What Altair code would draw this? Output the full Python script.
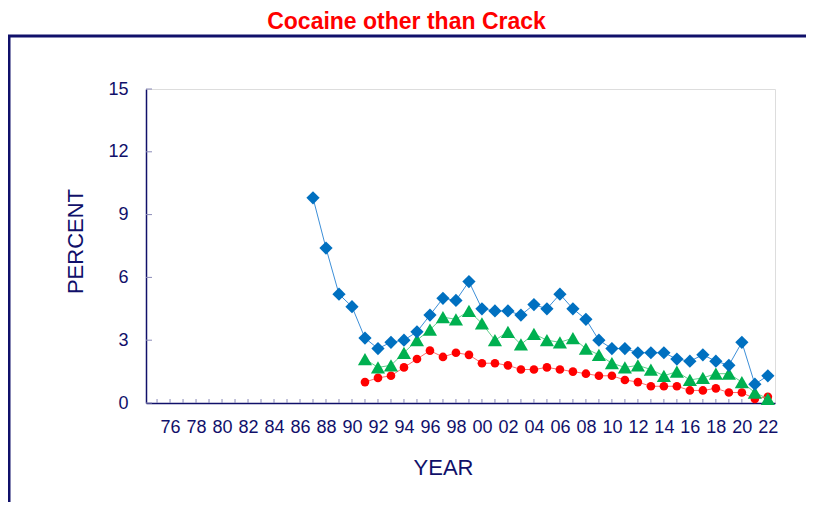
import altair as alt
import pandas as pd

# ---- data ----
years_12 = list(range(1987, 2023))
grade12 = [9.8, 7.4, 5.2, 4.6, 3.1, 2.6, 2.9, 3.0, 3.4, 4.2, 5.0, 4.9, 5.8, 4.5,
           4.4, 4.4, 4.2, 4.7, 4.5, 5.2, 4.5, 4.0, 3.0, 2.6, 2.6, 2.4, 2.4, 2.4,
           2.1, 2.0, 2.3, 2.0, 1.8, 2.9, 0.9, 1.3]
years_10_8 = list(range(1991, 2023))
grade10 = [2.1, 1.7, 1.8, 2.4, 3.0, 3.5, 4.1, 4.0, 4.4, 3.8, 3.0, 3.4, 2.8, 3.3,
           3.0, 2.9, 3.1, 2.6, 2.3, 1.9, 1.7, 1.8, 1.6, 1.3, 1.5, 1.1, 1.2, 1.4,
           1.4, 1.0, 0.5, 0.2]
grade8 = [1.0, 1.2, 1.3, 1.7, 2.1, 2.5, 2.2, 2.4, 2.3, 1.9, 1.9, 1.8, 1.6, 1.6,
          1.7, 1.6, 1.5, 1.4, 1.3, 1.3, 1.1, 1.0, 0.8, 0.8, 0.8, 0.6, 0.6, 0.7,
          0.5, 0.5, 0.2, 0.3]
tick_years = list(range(1975, 2023))
label_years = list(range(1976, 2023, 2))
y_ticks = [0, 3, 6, 9, 12, 15]

FONT = "Liberation Sans, Arial"
NAVY = "#10106a"
TICK = "#8a8ab8"
W, H = 629, 314

rows = []
for y, v in zip(years_12, grade12):
    rows.append({"year": y, "value": v, "grade": "12"})
for y, v in zip(years_10_8, grade10):
    rows.append({"year": y, "value": v, "grade": "10"})
for y, v in zip(years_10_8, grade8):
    rows.append({"year": y, "value": v, "grade": "8"})
df = pd.DataFrame(rows)

xscale = alt.Scale(domain=[1974.15, 2022.55], nice=False, zero=False)
yscale = alt.Scale(domain=[0, 15], nice=False, zero=True)

xaxis = alt.Axis(
    values=label_years, labelExpr="slice(toString(datum.value), 2)",
    ticks=False, tickSize=0, grid=False,
    domainColor=NAVY, domainWidth=1.5,
    labelColor=NAVY, labelFont=FONT, labelFontSize=18, labelPadding=15,
    labelFlush=False, labelOverlap=False, labelBound=False,
    title="YEAR", titleFont=FONT, titleFontSize=22, titleFontWeight="normal",
    titleColor=NAVY, titleX=297, titleY=64, titleBaseline="middle", titleAlign="center",
)
yaxis = alt.Axis(
    values=y_ticks, ticks=False, tickSize=0, grid=False,
    domainColor=NAVY, domainWidth=1.5,
    labelColor=NAVY, labelFont=FONT, labelFontSize=18, labelPadding=18,
    labelFlush=False, labelOverlap=False,
    title="PERCENT", titleFont=FONT, titleFontSize=22, titleFontWeight="normal",
    titleColor=NAVY, titleX=-71, titleY=152, titleBaseline="middle", titleAlign="center",
    titleAngle=270,
)

X = alt.X("year:Q", scale=xscale, axis=xaxis)
Y = alt.Y("value:Q", scale=yscale, axis=yaxis)

frame = alt.Chart(pd.DataFrame({"a": [0]})).mark_rect(
    fill="transparent", stroke=NAVY, strokeWidth=3
).encode(x=alt.value(-137), x2=alt.value(700), y=alt.value(-53), y2=alt.value(520))

xticks = alt.Chart(pd.DataFrame({"year": tick_years})).mark_rule(
    color=TICK, strokeWidth=1
).encode(x=X, y=alt.value(H - 4), y2=alt.value(H))

yticks = alt.Chart(pd.DataFrame({"value": y_ticks})).mark_rule(
    color=TICK, strokeWidth=1
).encode(y=Y, x=alt.value(0), x2=alt.value(6))

base = alt.Chart(df)
layers = [frame, xticks, yticks]
series = [
    ("8", "#FF0000", "#ff6a6a", "circle", 75),
    ("10", "#00B050", "#5fcf8a", "triangle-up", 200),
    ("12", "#0070C0", "#3d8fd8", "diamond", 175),
]
for g, col, lcol, shape, size in series:
    sub = base.transform_filter(alt.datum.grade == g)
    layers.append(sub.mark_line(color=lcol, strokeWidth=1).encode(x=X, y=Y))
    layers.append(sub.mark_point(shape=shape, filled=True, color=col, size=size,
                                 opacity=1).encode(x=X, y=Y))

chart = alt.layer(*layers).properties(
    width=W, height=H,
    title=alt.TitleParams(
        "Cocaine other than Crack", font=FONT, fontSize=23, fontWeight="bold",
        color="#FF0000", anchor="middle", frame="group", dx=-54, offset=1,
    ),
    autosize=alt.AutoSizeParams(type="none"),
    padding={"left": 138, "top": 81, "right": 31, "bottom": 99},
).configure_view(strokeWidth=0).configure(background="white")

chart.save("out.html", embed_options={"renderer": "svg", "actions": False})
